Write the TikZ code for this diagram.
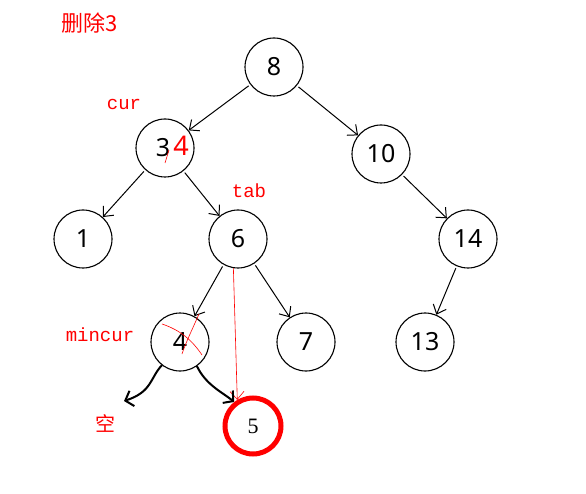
\documentclass[tikz,border=0pt]{standalone}
\usepackage{fontspec}
\setmainfont{Noto Sans}
\setmonofont{Liberation Mono}
\newfontfamily\cjk{Noto Sans CJK SC}
\newfontfamily\numserif{Liberation Serif}
\usetikzlibrary{arrows.meta}
\begin{document}
\begin{tikzpicture}[x=1pt,y=-1pt,
    key/.style={draw, circle, line width=1.1pt, minimum size=58pt, inner sep=0pt,
      font=\fontsize{25}{25}\selectfont},
    note/.style={text=red, font=\ttfamily\fontsize{19}{19}\selectfont},
    link/.style={-{Straight Barb[length=8pt,width=14pt]}, line width=1pt, shorten <=2pt},
    hand/.style={-{Straight Barb[length=7pt,width=16pt,line width=2pt]}, line width=2pt, line cap=round},
    scrawl/.style={red, line width=0.6pt}]
  \useasboundingbox (0,0) rectangle (586,494);
  % tree
  \node[key] (n8) at (274,67) {8};
  \node[key] (n3) at (165,148) {\hspace{-4pt}3};
  \node[key] (n10) at (381,154) {10};
  \node[key] (n1) at (83,239) {1};
  \node[key] (n6) at (238,239) {6};
  \node[key] (n14) at (468,239) {14};
  \node[key] (n4) at (180,342) {4};
  \node[key] (n7) at (306,342) {7};
  \node[key] (n13) at (425,342) {13};
  \node[draw=red, circle, line width=5pt, minimum size=56pt, inner sep=0pt,
    font=\numserif\fontsize{22}{22}\selectfont] (n5) at (253,426) {5};
  \draw[link] (n8) -- (n3);
  \draw[link] (n8) -- (n10);
  \draw[link] (n3) -- (n1);
  \draw[link] (n3) -- (n6);
  \draw[link] (n10) -- (n14);
  \draw[link] (n6) -- (n4);
  \draw[link] (n6) -- (n7);
  \draw[link] (n14) -- (n13);
  % notes
  \node[text=red, font=\cjk\fontsize{22}{22}\selectfont] (title) at (90,23) {删除3};
  \node[note] (cur) at (124,104) {cur};
  \node[note] (tab) at (249,191) {tab};
  \node[note] (mincur) at (100,335) {mincur};
  \node[text=red, font=\cjk\fontsize{20}{20}\selectfont] (empty) at (105,423) {空};
  \node[text=red, font=\fontsize{27}{27}\selectfont] (swap) at (181,146) {4};
  \draw[scrawl] (169,150) -- (165,163);
  \draw[scrawl] (162,324) .. controls (180,330) and (192,340) .. (202,355);
  \draw[scrawl] (199,314) .. controls (192,330) and (186,342) .. (182,354);
  \draw[scrawl, -{Straight Barb[length=8pt,width=14pt]}] (n6.261) -- (n5.121);
  % moves
  \coordinate (hole) at (124,401);
  \draw[hand] (n4.232) .. controls (150,378) and (152,392) .. (hole);
  \draw[hand] (n4.305) .. controls (206,385) and (222,392) .. (n5.128);
\end{tikzpicture}
\end{document}
